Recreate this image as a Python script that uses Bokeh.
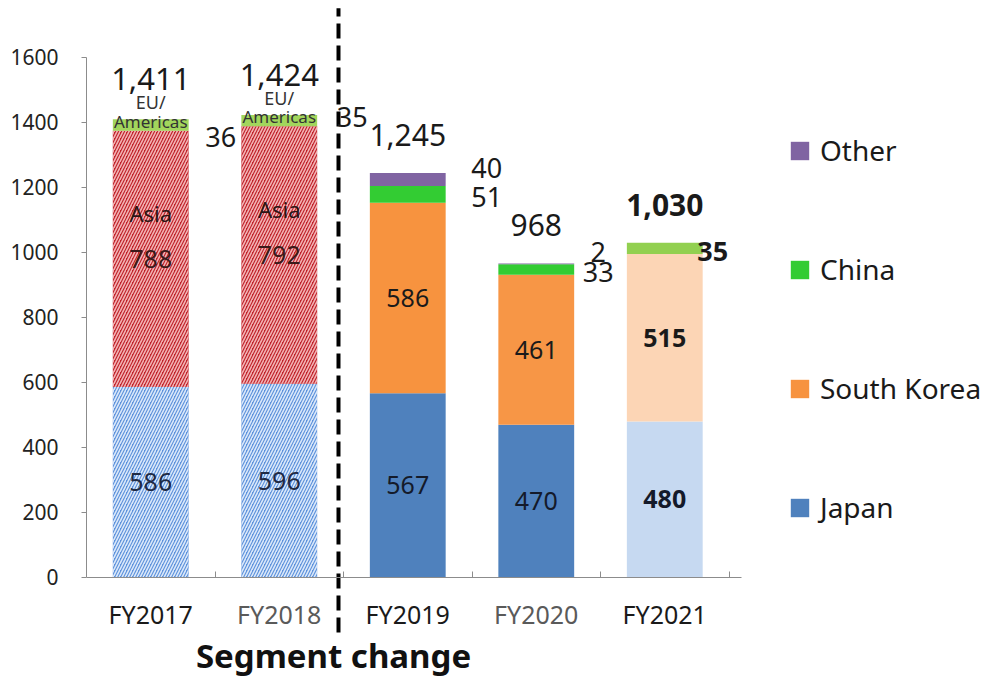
from bokeh.plotting import figure
from bokeh.models import ColumnDataSource, Range1d, LinearAxis, FixedTicker, Legend, LegendItem
from bokeh.embed import file_html
from bokeh.resources import INLINE
from bokeh.core.properties import value

# ---------------- data ----------------
years = ["FY2017", "FY2018", "FY2019", "FY2020", "FY2021"]

# old segmentation (FY2017-FY2018)
old_years = ["FY2017", "FY2018"]
old_japan = [586, 596]
old_asia = [788, 792]
old_eu_americas = [36, 35]
old_totals = ["1,411", "1,424"]

# new segmentation (FY2019-FY2021)
new_years = ["FY2019", "FY2020", "FY2021"]
new_japan = [567, 470, 480]
new_korea = [586, 461, 515]
new_china = [51, 33, 35]
new_other = [40, 2, 0]
new_totals = ["1,245", "968", "1,030"]

legend_labels = ["Other", "China", "South Korea", "Japan"]
y_ticks = [0, 200, 400, 600, 800, 1000, 1200, 1400, 1600]
segment_note = "Segment change"

# ---------------- styles ----------------
FONT = "Noto Sans"
TXT = "#1a1a1a"
new_japan_colors = ["#4f81bd", "#4f81bd", "#c6d9f1"]
new_korea_colors = ["#f7933f", "#f79646", "#fcd5b5"]
new_china_colors = ["#33cc33", "#33cc33", "#92d050"]
new_other_colors = ["#8064a2", "#8064a2", "#8064a2"]
BAR_W = 0.59

xpos = {y: i + 0.5 for i, y in enumerate(years)}
ox = [xpos[y] for y in old_years]
nx = [xpos[y] for y in new_years]

p = figure(width=989, height=679, output_backend="svg", toolbar_location=None,
           x_range=Range1d(0, 7.027), y_range=Range1d(-313.8, 1775),
           x_axis_type=None, y_axis_type=None,
           min_border_left=86, min_border_right=0, min_border_top=0, min_border_bottom=0)
p.outline_line_color = None
p.background_fill_color = "white"
p.border_fill_color = "white"

# y axis
ya = LinearAxis(ticker=FixedTicker(ticks=y_ticks), bounds=(0, 1600))
ya.axis_line_color = "#8c8c8c"
ya.major_tick_line_color = "#8c8c8c"
ya.major_tick_out = 5
ya.major_tick_in = 0
ya.minor_tick_line_color = None
ya.major_label_standoff = 23
ya.major_label_text_font = FONT
ya.major_label_text_font_size = "21px"
ya.major_label_text_color = "#222222"
p.add_layout(ya, "left")

# x axes (at y = 0)
dark_idx = [0, 2, 4]
gray_idx = [1, 3]
xa = LinearAxis(fixed_location=0, bounds=(0, 5.1),
                ticker=FixedTicker(ticks=[i + 0.5 for i in dark_idx],
                                   minor_ticks=[1, 2, 3, 4, 5]))
xa.major_label_overrides = {i + 0.5: years[i] for i in dark_idx}
xa.axis_line_color = "#8c8c8c"
xa.major_tick_line_color = None
xa.major_tick_out = 0
xa.major_tick_in = 0
xa.minor_tick_line_color = "#8c8c8c"
xa.minor_tick_in = 6
xa.minor_tick_out = 0
xa.major_label_standoff = 20
xa.major_label_text_font = FONT
xa.major_label_text_font_size = "25px"
xa.major_label_text_color = "#1a1a1a"
p.add_layout(xa, "below")

xb = LinearAxis(fixed_location=0, bounds=(0, 5.1),
                ticker=FixedTicker(ticks=[i + 0.5 for i in gray_idx], minor_ticks=[]))
xb.major_label_overrides = {i + 0.5: years[i] for i in gray_idx}
xb.axis_line_color = None
xb.major_tick_line_color = None
xb.major_tick_out = 0
xb.major_tick_in = 0
xb.minor_tick_line_color = None
xb.major_label_standoff = 20
xb.major_label_text_font = FONT
xb.major_label_text_font_size = "25px"
xb.major_label_text_color = "#5a5a5a"
p.add_layout(xb, "below")

# ---------------- old bars (hatched) ----------------
o_asia_bot = old_japan
o_asia_top = [j + a for j, a in zip(old_japan, old_asia)]
o_eu_top = [t + e for t, e in zip(o_asia_top, old_eu_americas)]

p.vbar(x=ox, bottom=0, top=old_japan, width=BAR_W, fill_color="#5d92dc", line_color=None,
       hatch_pattern="/", hatch_color="#dce9fa", hatch_scale=6, hatch_weight=1.6)
p.vbar(x=ox, bottom=o_asia_bot, top=o_asia_top, width=BAR_W, fill_color="#c0222a", line_color=None,
       hatch_pattern="/", hatch_color="#f3b3b5", hatch_scale=6, hatch_weight=1.6)
p.vbar(x=ox, bottom=o_asia_top, top=o_eu_top, width=BAR_W, fill_color="#a2d65c", line_color=None)

# ---------------- new bars ----------------
n_k_bot = new_japan
n_k_top = [j + k for j, k in zip(new_japan, new_korea)]
n_c_top = [t + c for t, c in zip(n_k_top, new_china)]
n_o_top = [t + o for t, o in zip(n_c_top, new_other)]

r_j = p.vbar(source=ColumnDataSource(dict(x=nx, b=[0] * 3, t=new_japan, c=new_japan_colors)),
             x="x", bottom="b", top="t", width=BAR_W, fill_color="c", line_color=None)
r_k = p.vbar(source=ColumnDataSource(dict(x=nx, b=n_k_bot, t=n_k_top, c=new_korea_colors)),
             x="x", bottom="b", top="t", width=BAR_W, fill_color="c", line_color=None)
r_c = p.vbar(source=ColumnDataSource(dict(x=nx, b=n_k_top, t=n_c_top, c=new_china_colors)),
             x="x", bottom="b", top="t", width=BAR_W, fill_color="c", line_color=None)
r_o = p.vbar(source=ColumnDataSource(dict(x=nx, b=n_c_top, t=n_o_top, c=new_other_colors)),
             x="x", bottom="b", top="t", width=BAR_W, fill_color="c", line_color=None)

# ---------------- segment change divider ----------------
DIV_X = 1.961
p.segment(x0=[DIV_X], y0=[-169], x1=[DIV_X], y1=[1751], line_color="black",
          line_width=4, line_dash="15 7")


def labels(xs, ys, texts, size, xo=None, yo=None, bold=None, color=TXT, align="center"):
    n = len(xs)
    src = ColumnDataSource(dict(
        x=xs, y=ys, t=texts,
        xo=xo if xo is not None else [0] * n,
        yo=yo if yo is not None else [0] * n,
        fs=["bold" if b else "normal" for b in (bold or [False] * n)],
    ))
    p.text(x="x", y="y", text="t", source=src, x_offset="xo", y_offset="yo",
           text_font=value(FONT), text_font_size=size, text_font_style="fs",
           text_align=align, text_baseline="middle", text_color=color)


# old labels
labels(ox, o_eu_top, old_totals, "31px", yo=[-40, -40])
labels(ox, o_eu_top, ["EU/"] * 2, "18px", yo=[-17, -17], color="#333333")
labels(ox, o_eu_top, ["Americas"] * 2, "17px", yo=[2, 2], color="#333333")
labels(ox, [t - e / 2 for t, e in zip(o_eu_top, old_eu_americas)],
       [str(v) for v in old_eu_americas], "27px", xo=[70, 73], yo=[12, -4])
asia_mid = [b + a / 2 for b, a in zip(o_asia_bot, old_asia)]
labels(ox, asia_mid, ["Asia"] * 2, "22px", yo=[-46, -46], color="#2a1515")
labels(ox, asia_mid, [str(v) for v in old_asia], "25px", color="#3a1a1a")
labels(ox, [j / 2 for j in old_japan], [str(v) for v in old_japan], "25px", color="#1f2a44")

# new labels
bold_new = [False, False, True]
labels(nx, n_o_top, new_totals, "30px", yo=[-38, -38, -38], bold=bold_new)
labels(nx, [j / 2 for j in new_japan], [str(v) for v in new_japan], "25px",
       bold=bold_new, color="#141a2a")
labels(nx, [b + k / 2 for b, k in zip(n_k_bot, new_korea)], [str(v) for v in new_korea], "25px",
       bold=bold_new)
labels(nx, [b + c / 2 for b, c in zip(n_k_top, new_china)], [str(v) for v in new_china], "27px",
       xo=[79, 62, 48], yo=[3, 3, 3], bold=bold_new)
oth = [i for i, v in enumerate(new_other) if v > 0]
labels([nx[i] for i in oth], [n_c_top[i] + new_other[i] / 2 for i in oth],
       [str(new_other[i]) for i in oth], "27px", xo=[[79, 62, 48][i] for i in oth],
       yo=[-12] * len(oth))

# segment change note
labels([DIV_X], [-240], [segment_note], "33px", xo=[-5], bold=[True], color="#111111")

# ---------------- legend ----------------
items = [LegendItem(label=lab, renderers=[r], index=0)
         for lab, r in zip(legend_labels, [r_o, r_c, r_k, r_j])]
leg = Legend(items=items, location=(702, 153), glyph_width=23, glyph_height=23,
             label_height=30, spacing=81, label_standoff=9, padding=0, margin=0,
             border_line_color=None, background_fill_alpha=0,
             label_text_font=FONT, label_text_font_size="28px", label_text_color="#1a1a1a")
p.add_layout(leg)

open("out.html", "w").write(file_html(p, INLINE))
